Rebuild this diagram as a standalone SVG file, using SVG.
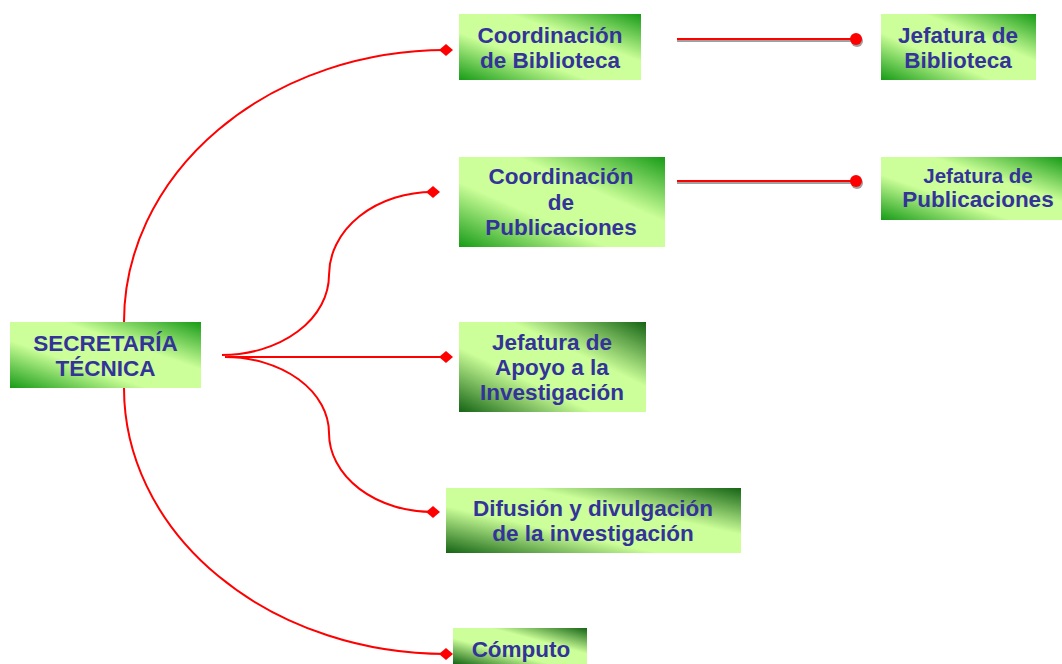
<svg xmlns="http://www.w3.org/2000/svg" width="1062" height="664" viewBox="0 0 1062 664">
<style>
.t{font-family:"Liberation Sans",Arial,sans-serif;font-weight:bold;font-size:22.5px;fill:#333399;text-anchor:middle}
.s{font-size:20.5px}
.c{fill:none;stroke:#ff0000;stroke-width:2}
.sh{fill:none;stroke:#a0a0a0;stroke-width:2}
</style>
<defs>
<linearGradient id="g1" x1="0" y1="1" x2="1" y2="0">
<stop offset="0" stop-color="#179b17"/>
<stop offset="0.36" stop-color="#ccff99"/>
<stop offset="0.64" stop-color="#ccff99"/>
<stop offset="1" stop-color="#179b17"/>
</linearGradient>
<linearGradient id="g2" x1="0" y1="1" x2="1" y2="0">
<stop offset="0" stop-color="#156415"/>
<stop offset="0.36" stop-color="#ccff99"/>
<stop offset="0.64" stop-color="#ccff99"/>
<stop offset="1" stop-color="#156415"/>
</linearGradient>
<marker id="dia" markerUnits="userSpaceOnUse" markerWidth="16" markerHeight="14" refX="8" refY="7" orient="auto" viewBox="0 0 16 14">
<path d="M1,7 L8,1 L15,7 L8,13 Z" fill="#ff0000"/>
</marker>
</defs>

<g id="connectors">
<path class="c" d="M124,322 A322 272 0 0 1 446,50" marker-end="url(#dia)"/>
<path class="c" d="M124,388 A322 266 0 0 0 446,654" marker-end="url(#dia)"/>
<path class="c" d="M222,355 A107 80 0 0 0 329,275 A104 83 0 0 1 433,192" marker-end="url(#dia)"/>
<path class="c" d="M225,357 A104 76 0 0 1 329,433 A104 79 0 0 0 433,512" marker-end="url(#dia)"/>
<path class="c" d="M228,357 L446,357" marker-end="url(#dia)"/>
<path class="sh" d="M677,41 L856,41"/>
<path class="c" d="M677,39 L856,39"/>
<circle cx="857" cy="41" r="6" fill="#a0a0a0"/>
<circle cx="856" cy="39" r="6" fill="#ff0000"/>
<path class="sh" d="M677,183 L856,183"/>
<path class="c" d="M677,181 L856,181"/>
<circle cx="857" cy="183" r="6" fill="#a0a0a0"/>
<circle cx="856" cy="181" r="6" fill="#ff0000"/>
</g>

<g id="secretaria">
<rect x="10" y="322" width="191" height="66" fill="url(#g1)"/>
<text class="t" x="105.5" y="351">SECRETARÍA</text>
<text class="t" x="105.5" y="376">TÉCNICA</text>
</g>
<g id="coord-biblioteca">
<rect x="459" y="14" width="182" height="66" fill="url(#g1)"/>
<text class="t" x="550" y="43">Coordinación</text>
<text class="t" x="550" y="68">de Biblioteca</text>
</g>
<g id="jefatura-biblioteca">
<rect x="881" y="14" width="155" height="66" fill="url(#g1)"/>
<text class="t" x="958" y="43">Jefatura de</text>
<text class="t" x="958" y="68">Biblioteca</text>
</g>
<g id="coord-publicaciones">
<rect x="459" y="157" width="206" height="90" fill="url(#g1)"/>
<text class="t" x="561" y="184">Coordinación</text>
<text class="t" x="561" y="210">de</text>
<text class="t" x="561" y="235">Publicaciones</text>
</g>
<g id="jefatura-publicaciones">
<rect x="881" y="157" width="181" height="63" fill="url(#g1)"/>
<text class="t s" x="978" y="183">Jefatura de</text>
<text class="t" x="978" y="207">Publicaciones</text>
</g>
<g id="jefatura-apoyo">
<rect x="459" y="322" width="187" height="90" fill="url(#g2)"/>
<text class="t" x="552" y="350">Jefatura de</text>
<text class="t" x="552" y="375">Apoyo a la</text>
<text class="t" x="552" y="400">Investigación</text>
</g>
<g id="difusion">
<rect x="446" y="488" width="295" height="65" fill="url(#g2)"/>
<text class="t" x="593" y="516">Difusión y divulgación</text>
<text class="t" x="593" y="541">de la investigación</text>
</g>
<g id="computo">
<rect x="453" y="628" width="134" height="36" fill="url(#g2)"/>
<text class="t" x="521" y="657">Cómputo</text>
</g>
</svg>
